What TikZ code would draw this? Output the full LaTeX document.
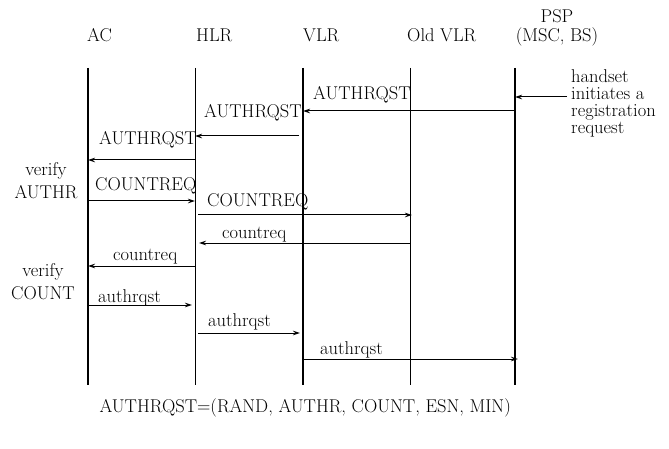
\documentclass[tikz,border=0pt]{standalone}
\usetikzlibrary{arrows.meta}
\begin{document}
\begin{tikzpicture}[x=1pt,y=-1pt,
  every node/.style={font=\fontsize{18.5}{21}\selectfont, inner sep=0pt},
  life/.style={line width=1.1pt},
  lifethin/.style={line width=0.7pt},
  msg/.style={line width=1pt, -{Stealth[length=7pt,width=4.5pt]}},
  lbl/.style={anchor=base west},
]
\useasboundingbox (0,0) rectangle (669,449);
% lifelines
\coordinate (ACt) at (88,68);   \coordinate (ACb) at (88,385);
\coordinate (HLRt) at (195,68); \coordinate (HLRb) at (195,385);
\coordinate (VLRt) at (303,68); \coordinate (VLRb) at (303,385);
\coordinate (OLDt) at (410,68); \coordinate (OLDb) at (410,385);
\coordinate (PSPt) at (515,68); \coordinate (PSPb) at (515,385);
\draw[life] (ACt) -- (ACb);
\draw[lifethin] (HLRt) -- (HLRb);
\draw[life] (VLRt) -- (VLRb);
\draw[lifethin] (OLDt) -- (OLDb);
\draw[life] (PSPt) -- (PSPb);
% headers
\node[lbl] (hAC) at (87,42) {AC};
\node[lbl] (hHLR) at (196,42) {HLR};
\node[lbl] (hVLR) at (303,42) {VLR};
\node[lbl] (hOLD) at (407,42) {Old VLR};
\node[anchor=base] (hPSP) at (557,23) {PSP};
\node[anchor=base] (hMSC) at (557,42) {(MSC, BS)};
% side notes
\node[anchor=north west, align=left, font=\fontsize{18.5}{17}\selectfont] (note) at (571,69.5)
  {handset\\initiates a\\registration\\request};
\node[anchor=north, align=center, font=\fontsize{18.5}{23}\selectfont] (vA) at (46,162.5) {verify\\AUTHR};
\node[anchor=north, align=center, font=\fontsize{18.5}{23}\selectfont] (vC) at (43,263.5) {verify\\COUNT};
% message rows
\coordinate (h0) at (0,97);
\coordinate (m1) at (0,111);
\coordinate (m2) at (0,136);
\coordinate (m3) at (0,160);
\coordinate (m4) at (0,201);
\coordinate (m5) at (0,215);
\coordinate (m6) at (0,243);
\coordinate (m7) at (0,266);
\coordinate (m8) at (0,305);
\coordinate (m9) at (0,333);
\coordinate (m10) at (0,359);
\coordinate (hs) at (567,97);
% messages
\draw[msg] (hs) -- (PSPt |- h0);
\draw[msg] (PSPt |- m1) -- (VLRt |- m1);
\draw[msg] ([xshift=-4pt]VLRt |- m2) -- (HLRt |- m2);
\draw[msg] (HLRt |- m3) -- (ACt |- m3);
\draw[msg] (ACt |- m4) -- (HLRt |- m4);
\draw[msg] ([xshift=3pt]HLRt |- m5) -- ([xshift=2pt]OLDt |- m5);
\draw[msg] (OLDt |- m6) -- ([xshift=4pt]HLRt |- m6);
\draw[msg] (HLRt |- m7) -- (ACt |- m7);
\draw[msg] (ACt |- m8) -- ([xshift=-3pt]HLRt |- m8);
\draw[msg] ([xshift=3pt]HLRt |- m9) -- ([xshift=-3pt]VLRt |- m9);
\draw[msg] (VLRt |- m10) -- ([xshift=3pt]PSPt |- m10);
% labels
\node[lbl] (l1) at (313,100) {AUTHRQST};
\node[lbl] (l2) at (204,118) {AUTHRQST};
\node[lbl] (l3) at (99,145) {AUTHRQST};
\node[lbl] (l4) at (95,191) {COUNTREQ};
\node[lbl] (l5) at (207,207) {COUNTREQ};
\node[lbl] (l6) at (222,238) {countreq};
\node[lbl] (l7) at (113,260) {countreq};
\node[lbl] (l8) at (98,302) {authrqst};
\node[lbl] (l9) at (208,326) {authrqst};
\node[lbl] (l10) at (320,354) {authrqst};
% footer
\node[anchor=base east] (foot) at (511,412) {AUTHRQST=(RAND, AUTHR, COUNT, ESN, MIN)};
\end{tikzpicture}
\end{document}
